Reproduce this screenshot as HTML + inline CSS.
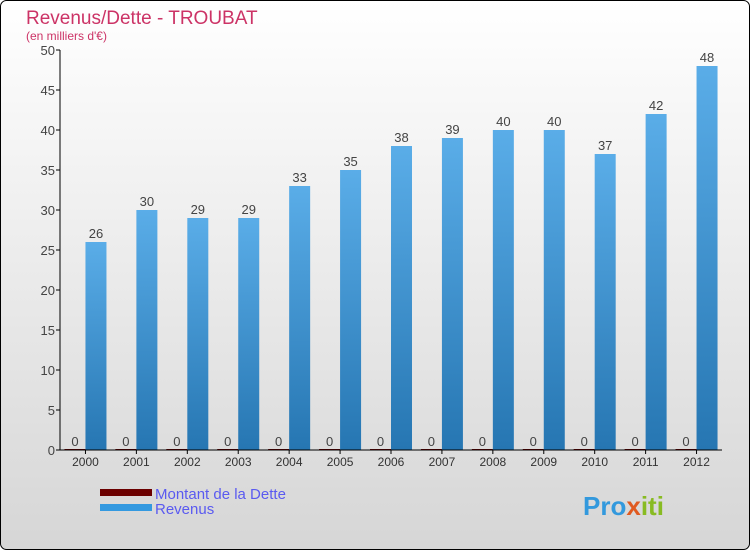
<!DOCTYPE html>
<html><head><meta charset="utf-8"><style>
body{margin:0}
svg{display:block;font-family:"Liberation Sans",sans-serif}
</style></head><body>
<svg id="c" width="750" height="550">
<defs>
<linearGradient id="bg" x1="0" y1="0" x2="0" y2="1"><stop offset="0" stop-color="#ffffff"/><stop offset="1" stop-color="#d6d6d6"/></linearGradient>
<linearGradient id="bar" x1="0" y1="0" x2="0" y2="1"><stop offset="0" stop-color="#5aade8"/><stop offset="1" stop-color="#2676b2"/></linearGradient>
</defs>
<rect x="0.5" y="0.5" width="749" height="549" rx="6" fill="url(#bg)" stroke="#000"/>
<text x="26" y="24" font-size="19" fill="#cc3366">Revenus/Dette - TROUBAT</text>
<text x="26" y="40" font-size="12" fill="#cc3366">(en milliers d'€)</text>
<g id="plot"></g>
<g>
<rect x="100" y="489" width="52" height="7" fill="#6b0000"/>
<text x="155" y="499" font-size="15" fill="#5a5af0">Montant de la Dette</text>
<rect x="100" y="504" width="52" height="7" fill="#3399e0"/>
<text x="155" y="514" font-size="15" fill="#5a5af0">Revenus</text>
</g>
<text x="583" y="515" font-size="26" font-weight="bold" fill="#3399dd">Pro<tspan fill="#e05a20">x</tspan><tspan fill="#88bb22">iti</tspan></text>
</svg>
<script>
const years=["2000","2001","2002","2003","2004","2005","2006","2007","2008","2009","2010","2011","2012"];
const revenus=[26,30,29,29,33,35,38,39,40,40,37,42,48];
const dette=[0,0,0,0,0,0,0,0,0,0,0,0,0];
const yTicks=[0,5,10,15,20,25,30,35,40,45,50];
const ns="http://www.w3.org/2000/svg";
const g=document.getElementById('plot');
const x0=60,x1=722,yb=450,yt=50,ymax=50;
const bw=(x1-x0)/years.length;
const y=v=>yb-(v/ymax)*(yb-yt);
const cx=i=>x0+bw*(i+0.5);
function mk(t,a,txt){const e=document.createElementNS(ns,t);for(const k in a)e.setAttribute(k,a[k]);if(txt!==undefined)e.textContent=txt;g.appendChild(e);return e;}
yTicks.forEach(v=>{
 const l=mk('line',{x1:x0-4,x2:x0,y1:y(v),y2:y(v),stroke:'#000'});
 
 
 const t=mk('text',{x:x0-5,y:y(v)+5,'text-anchor':'end','font-size':13,fill:'#444'},v);
 
 
});
years.forEach((yr,i)=>{
 const c=cx(i);
 const d=mk('rect',{x:c-21,y:y(dette[i])-1,width:21,height:yb-y(dette[i])+1,fill:'#6b0000'});
 
 
 const b=mk('rect',{x:c,y:y(revenus[i]),width:21,height:yb-y(revenus[i]),fill:'url(#bar)'});
 
 
 const t1=mk('text',{x:c-10.5,y:y(dette[i])-4,'text-anchor':'middle','font-size':13,fill:'#444'},dette[i]);
 
 
 const t2=mk('text',{x:c+10.5,y:y(revenus[i])-4,'text-anchor':'middle','font-size':13,fill:'#444'},revenus[i]);
 
 
 const tk=mk('line',{x1:c,x2:c,y1:yb,y2:yb+4,stroke:'#000'});
 
 
 const xl=mk('text',{x:c,y:yb+16,'text-anchor':'middle','font-size':12,fill:'#333'},yr);
 
 
});
const ya=mk('line',{x1:x0,x2:x0,y1:yt,y2:yb,stroke:'#000'});


const xa=mk('line',{x1:x0,x2:x1,y1:yb,y2:yb,stroke:'#000'});


</script>
</body></html>
